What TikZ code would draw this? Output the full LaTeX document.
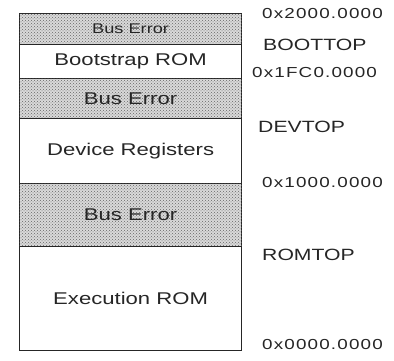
\documentclass[tikz,border=0pt]{standalone}
\usepackage{fontspec}
\setmainfont{Liberation Sans}
\newfontfamily\wide[FakeStretch=1.3]{Liberation Sans}
\newfontfamily\hex[FakeStretch=1.3,LetterSpace=8]{Liberation Sans}
\usetikzlibrary{patterns}
\begin{document}
\begin{tikzpicture}[x=1pt,y=1pt,
  region/.style={draw=black!85, line width=1.2pt, minimum width=222pt, anchor=north west, inner sep=0pt, font=\wide\fontsize{17}{17}\selectfont, text=black!85},
  buserr/.style={region, fill=black!15, postaction={pattern=crosshatch dots, pattern color=black!60}},
  addr/.style={anchor=west, inner sep=0pt, font=\hex\fontsize{14.5}{15}\selectfont, text=black!85},
  sym/.style={anchor=west, inner sep=0pt, font=\wide\fontsize{16.3}{16}\selectfont, text=black!85}]
\useasboundingbox (0,0) rectangle (394,361);
\fill[white] (0,0) rectangle (394,361);
\node[buserr, minimum height=31pt, font=\wide\fontsize{14}{14}\selectfont] (b1) at (19,348) {Bus Error};
\node[region, minimum height=34pt] (boot) at (19,317) {Bootstrap ROM};
\node[buserr, minimum height=40pt] (b2) at (19,283) {Bus Error};
\node[region, minimum height=65pt] (dev) at (19,243) {Device Registers};
\node[buserr, minimum height=63pt] (b3) at (19,178) {Bus Error};
\node[region, minimum height=104pt] (rom) at (19,115) {Execution ROM};
\node[addr] (a1) at (262,347) {0x2000.0000};
\node[sym] (s1) at (263,316) {BOOTTOP};
\node[addr] (a2) at (252,288) {0x1FC0.0000};
\node[sym] (s2) at (258,234) {DEVTOP};
\node[addr] (a3) at (262,178) {0x1000.0000};
\node[sym] (s3) at (262,106) {ROMTOP};
\node[addr] (a4) at (262,16) {0x0000.0000};
\end{tikzpicture}
\end{document}
